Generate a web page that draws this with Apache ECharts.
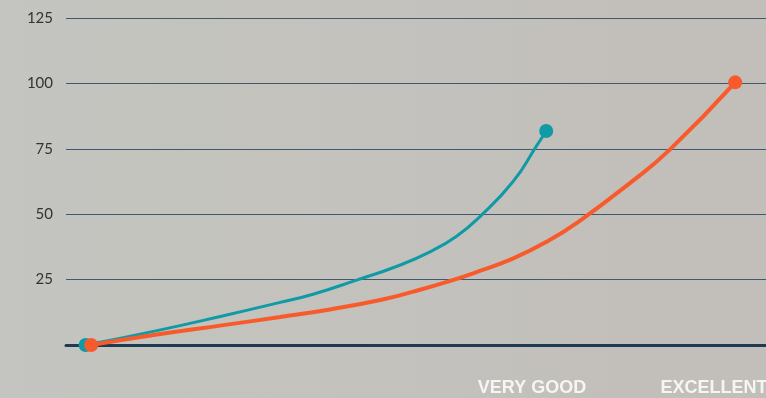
<!DOCTYPE html>
<html>
<head>
<meta charset="utf-8">
<script src="https://cdn.jsdelivr.net/npm/echarts@6/dist/echarts.min.js"></script>
<style>
html,body{margin:0;padding:0;}
#c{width:766px;height:398px;}
</style>
</head>
<body>
<div id="c"></div>
<script>
// Data
const categories = ["", "", "VERY GOOD", "EXCELLENT"];
const yTicks = [0, 25, 50, 75, 100, 125];
const tealX = [2.8, 13.0, 22.5, 30.6, 35.3, 41.5, 47.2, 52.0, 55.8, 59.1, 63.9, 67.2, 68.6];
const tealY = [0, 5.5, 11.2, 16.3, 19.4, 24.8, 30.0, 35.6, 41.6, 49.0, 62.6, 76.0, 81.8];
const orangeX = [3.6, 13.0, 22.5, 30.6, 37.7, 44.9, 49.6, 54.9, 59.1, 63.9, 68.7, 73.2, 80.6, 86.3, 95.6];
const orangeY = [0, 4.0, 7.6, 10.7, 13.6, 17.2, 20.4, 24.5, 28.3, 33.1, 39.5, 47.1, 62.0, 74.8, 100.4];

function build(xs, ys) {
  return xs.map((x, i) => {
    const end = (i === 0 || i === xs.length - 1);
    return { value: [x, ys[i]], symbol: end ? 'circle' : 'none' };
  });
}

const chart = echarts.init(document.getElementById('c'));
chart.setOption({
  animation: false,
  backgroundColor: {
    type: 'linear', x: 0, y: 0, x2: 1, y2: 0,
    colorStops: [{ offset: 0, color: '#c4c5c0' }, { offset: 1, color: '#c2beba' }]
  },
  grid: [
    { left: 66, right: 0, top: 18, bottom: 53, outerBoundsMode: 'none' },
    { left: 77, right: -39, top: 18, bottom: 53, outerBoundsMode: 'none' }
  ],
  xAxis: [
    {
      type: 'value', gridIndex: 0, min: 0, max: 100,
      axisLine: { show: true, lineStyle: { color: '#1f3b52', width: 3 } },
      axisTick: { show: false }, axisLabel: { show: false }, splitLine: { show: false }
    },
    {
      type: 'category', gridIndex: 1, data: categories, boundaryGap: true,
      axisLine: { show: false }, axisTick: { show: false }, splitLine: { show: false },
      axisLabel: {
        interval: 0, margin: 34, color: '#f5f5f3', fontSize: 18, fontWeight: 700,
        fontFamily: '"Liberation Sans", Arial, sans-serif', hideOverlap: false
      }
    }
  ],
  yAxis: [
    {
      type: 'value', gridIndex: 0, min: yTicks[0], max: yTicks[yTicks.length - 1], interval: 25,
      axisLine: { show: false }, axisTick: { show: false },
      axisLabel: {
        margin: 13, color: '#333', fontSize: 15, fontFamily: 'Lato',
        formatter: v => (v === 0 ? '' : String(v))
      },
      splitLine: { show: true, lineStyle: { color: '#3f5a70', width: 1 } }
    },
    {
      type: 'value', gridIndex: 1, show: false, min: 0, max: 125
    }
  ],
  series: [
    {
      type: 'line', xAxisIndex: 0, yAxisIndex: 0, smooth: 0.5, clip: false,
      data: build(tealX, tealY), symbolSize: 14,
      lineStyle: { color: '#0f9aa6', width: 3 },
      itemStyle: { color: '#0f9aa6' }
    },
    {
      type: 'line', xAxisIndex: 0, yAxisIndex: 0, smooth: 0.5, clip: false,
      data: build(orangeX, orangeY), symbolSize: 14,
      lineStyle: { color: '#f85b2b', width: 4 },
      itemStyle: { color: '#f85b2b' }
    }
  ]
});
</script>
</body>
</html>
